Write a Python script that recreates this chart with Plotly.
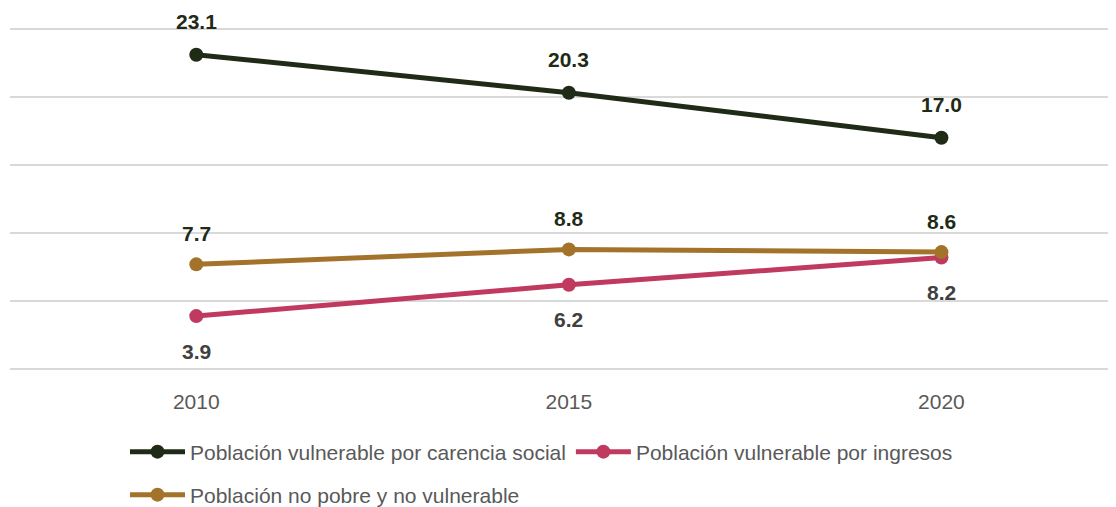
import plotly.graph_objects as go

years = ["2010", "2015", "2020"]
carencia_social = [23.1, 20.3, 17.0]
ingresos = [3.9, 6.2, 8.2]
no_pobre = [7.7, 8.8, 8.6]
names = ["Población vulnerable por carencia social",
         "Población vulnerable por ingresos",
         "Población no pobre y no vulnerable"]

c_green = "#1f2b17"
c_pink = "#c0395f"
c_gold = "#a4732b"
label_dark = "#1f2b17"
label_gray = "#404040"

W, H = 1116, 507
FONT = "Liberation Sans, Arial, sans-serif"
fig = go.Figure()
series = [(names[0], carencia_social, c_green, "legend"),
          (names[1], ingresos, c_pink, "legend"),
          (names[2], no_pobre, c_gold, "legend2")]
for nm, vals, col, lg in series:
    fig.add_trace(go.Scatter(x=years, y=vals, name=nm, mode="lines+markers",
                             line=dict(color=col, width=5),
                             marker=dict(color=col, size=14),
                             legend=lg, hoverinfo="skip"))

ann = []
for vals, shift, col in [(carencia_social, 33, label_dark),
                         (no_pobre, 31, label_dark),
                         (ingresos, -35, label_gray)]:
    for i, v in enumerate(vals):
        ann.append(dict(x=i, y=v, xref="x", yref="y", text=f"{v:.1f}", showarrow=False,
                        yshift=shift, xanchor="center", yanchor="middle",
                        font=dict(size=21, color=col, family=FONT, weight="bold")))

legend_common = dict(orientation="h", xref="container", yref="container",
                     xanchor="left", yanchor="middle",
                     font=dict(size=21, color="#595959", family=FONT), itemwidth=55,
                     bgcolor="rgba(0,0,0,0)")

fig.update_layout(
    width=W, height=H,
    margin=dict(l=2, r=0, t=14, b=139.4),
    paper_bgcolor="white", plot_bgcolor="white",
    font=dict(family=FONT, size=21, color="#595959"),
    xaxis=dict(type="category", range=[-0.5, 2.49], showgrid=False, zeroline=False,
               showline=False, ticks="", ticklabelstandoff=11,
               tickfont=dict(size=21, color="#595959")),
    yaxis=dict(range=[-0.5, 25.5], tickvals=[0, 5, 10, 15, 20, 25], showticklabels=False,
               showgrid=True, gridcolor="#d9d9d9", gridwidth=2, zeroline=False, showline=False),
    legend=dict(x=117 / W, y=1 - 444 / H, **legend_common),
    legend2=dict(x=117 / W, y=1 - 487 / H, **legend_common),
    annotations=ann,
    showlegend=True,
)
fig.write_html("out.html")
